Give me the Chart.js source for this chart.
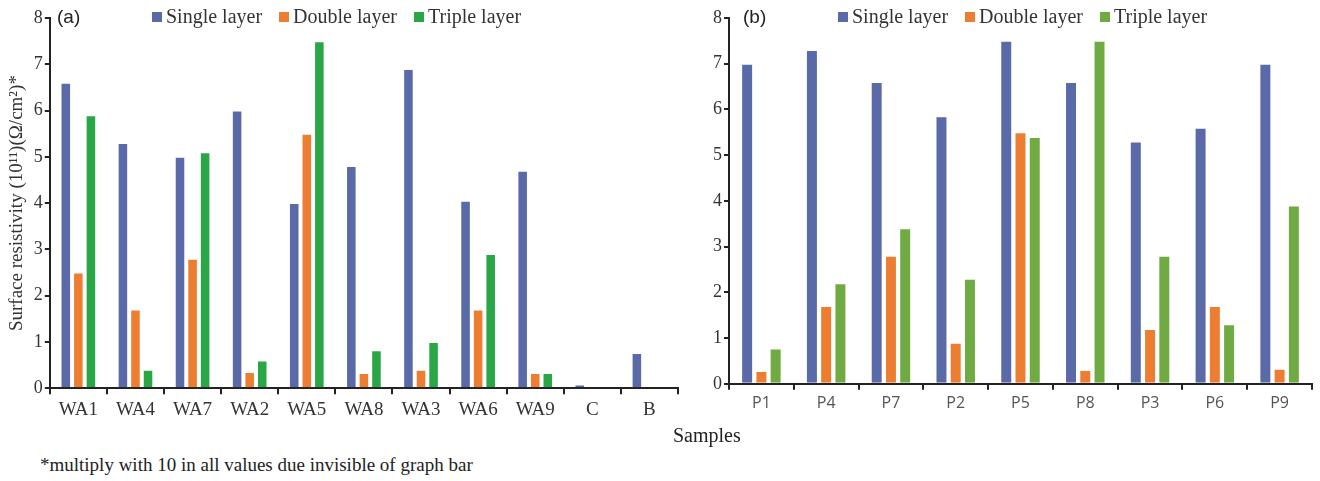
<!DOCTYPE html>
<html>
<head>
<meta charset="utf-8">
<script src="https://cdn.jsdelivr.net/npm/chart.js@4.4.1/dist/chart.umd.min.js"></script>
<style>
    body { margin: 0; background: #fff; width: 1320px; height: 481px; position: relative; overflow: hidden; }
    .box { position: absolute; top: 0; }
    .txt { position: absolute; white-space: nowrap; color: #222; }
    .serif { font-family: "Liberation Serif", "DejaVu Serif", serif; }
    .sans { font-family: "Liberation Sans", Arial, sans-serif; }
    .legend { position: absolute; top: 5px; display: flex; font-family: "Liberation Serif", serif; font-size: 20px; color: #333; }
    .legend span { display: flex; align-items: center; margin-right: 17px; }
    .legend i { display: inline-block; width: 10px; height: 10px; margin-right: 4px; }
</style>
</head>
<body>
<div class="box" style="left:0; width:686px; height:425px;"><canvas id="chartA"></canvas></div>
<div class="box" style="left:690px; width:630px; height:420px;"><canvas id="chartB"></canvas></div>

<div class="txt sans" style="left:57px; top:6px; font-size:19px;">(a)</div>
<div class="txt sans" style="left:743px; top:6px; font-size:19px;">(b)</div>
<div class="legend" id="legendA" style="left:152px;"></div>
<div class="legend" id="legendB" style="left:838px;"></div>
<div class="txt serif" style="left:673px; top:424px; font-size:20px;">Samples</div>
<div class="txt serif" style="left:40px; top:454px; font-size:19px;">*multiply with 10 in all values due invisible of graph bar</div>

<script>
    // left panel (a)
    const labelsA = ['WA1', 'WA4', 'WA7', 'WA2', 'WA5', 'WA8', 'WA3', 'WA6', 'WA9', 'C', 'B'];
    const singleA = [6.6, 5.3, 5.0, 6.0, 4.0, 4.8, 6.9, 4.05, 4.7, 0.08, 0.76];
    const doubleA = [2.5, 1.7, 2.8, 0.35, 5.5, 0.33, 0.4, 1.7, 0.33, null, null];
    const tripleA = [5.9, 0.4, 5.1, 0.6, 7.5, 0.82, 1.0, 2.9, 0.33, null, null];

    // right panel (b)
    const labelsB = ['P1', 'P4', 'P7', 'P2', 'P5', 'P8', 'P3', 'P6', 'P9'];
    const singleB = [7.0, 7.3, 6.6, 5.85, 7.5, 6.6, 5.3, 5.6, 7.0];
    const doubleB = [0.28, 1.7, 2.8, 0.9, 5.5, 0.3, 1.2, 1.7, 0.33];
    const tripleB = [0.77, 2.2, 3.4, 2.3, 5.4, 7.5, 2.8, 1.3, 3.9];

    const seriesNames = ['Single layer', 'Double layer', 'Triple layer'];
    const yTicks = [0, 1, 2, 3, 4, 5, 6, 7, 8];

    const blue = '#5A69A8';
    const orange = '#ED7D31';
    const greenA = '#29A645';
    const greenB = '#70AA42';

    const serif = '"Liberation Serif", "DejaVu Serif", serif';

    function makeLegend(id, colors) {
        const el = document.getElementById(id);
        seriesNames.forEach((name, i) => {
            const item = document.createElement('span');
            item.innerHTML = `<i style="background:${colors[i]}"></i>${name}`;
            el.appendChild(item);
        });
    }
    makeLegend('legendA', [blue, orange, greenA]);
    makeLegend('legendB', [blue, orange, greenB]);

    function dataset(label, data, color) {
        return {
            label: label,
            data: data,
            backgroundColor: color,
            borderColor: 'rgba(255,255,255,0.55)',
            borderWidth: 1,
            categoryPercentage: 0.66,
            barPercentage: 0.84
        };
    }

    function buildChart(id, labels, data, colors, opts) {
        const ctx = document.getElementById(id).getContext('2d');
        return new Chart(ctx, {
            type: 'bar',
            data: {
                labels: labels,
                datasets: data.map((d, i) => dataset(seriesNames[i], d, colors[i]))
            },
            options: {
                responsive: true,
                maintainAspectRatio: false,
                animation: false,
                layout: { padding: opts.padding },
                plugins: { legend: { display: false }, tooltip: { enabled: false } },
                scales: {
                    x: {
                        grid: { display: true, drawOnChartArea: false, drawTicks: true, tickLength: 6, color: '#222', lineWidth: 2 },
                        border: { display: true, color: '#222', width: 2 },
                        ticks: { color: opts.xColor, font: opts.xFont, padding: 4 }
                    },
                    y: {
                        min: 0,
                        max: 8,
                        afterBuildTicks: axis => { axis.ticks = yTicks.map(v => ({ value: v })); },
                        grid: { display: true, drawOnChartArea: false, drawTicks: true, tickLength: 5, color: '#222', lineWidth: 2 },
                        border: { display: true, color: '#222', width: 2 },
                        ticks: { color: '#333', font: { family: serif, size: 18 }, padding: 2 },
                        title: {
                            display: opts.yTitle !== '',
                            text: opts.yTitle,
                            color: '#333',
                            font: { family: serif, size: 19 },
                            padding: { top: 0, bottom: 3 }
                        }
                    }
                }
            }
        });
    }

    buildChart('chartA', labelsA, [singleA, doubleA, tripleA], [blue, orange, greenA], {
        padding: { top: 18, left: 6, right: 8, bottom: 0 },
        xColor: '#333',
        xFont: { family: serif, size: 19 },
        yTitle: 'Surface resistivity (10\u00B9\u00B9)(\u03A9/cm\u00B2)*'
    });

    buildChart('chartB', labelsB, [singleB, doubleB, tripleB], [blue, orange, greenB], {
        padding: { top: 18, left: 21, right: 8, bottom: 3 },
        xColor: '#555',
        xFont: { family: '"Open Sans", "Noto Sans", sans-serif', size: 16 },
        yTitle: ''
    });
</script>
</body>
</html>
